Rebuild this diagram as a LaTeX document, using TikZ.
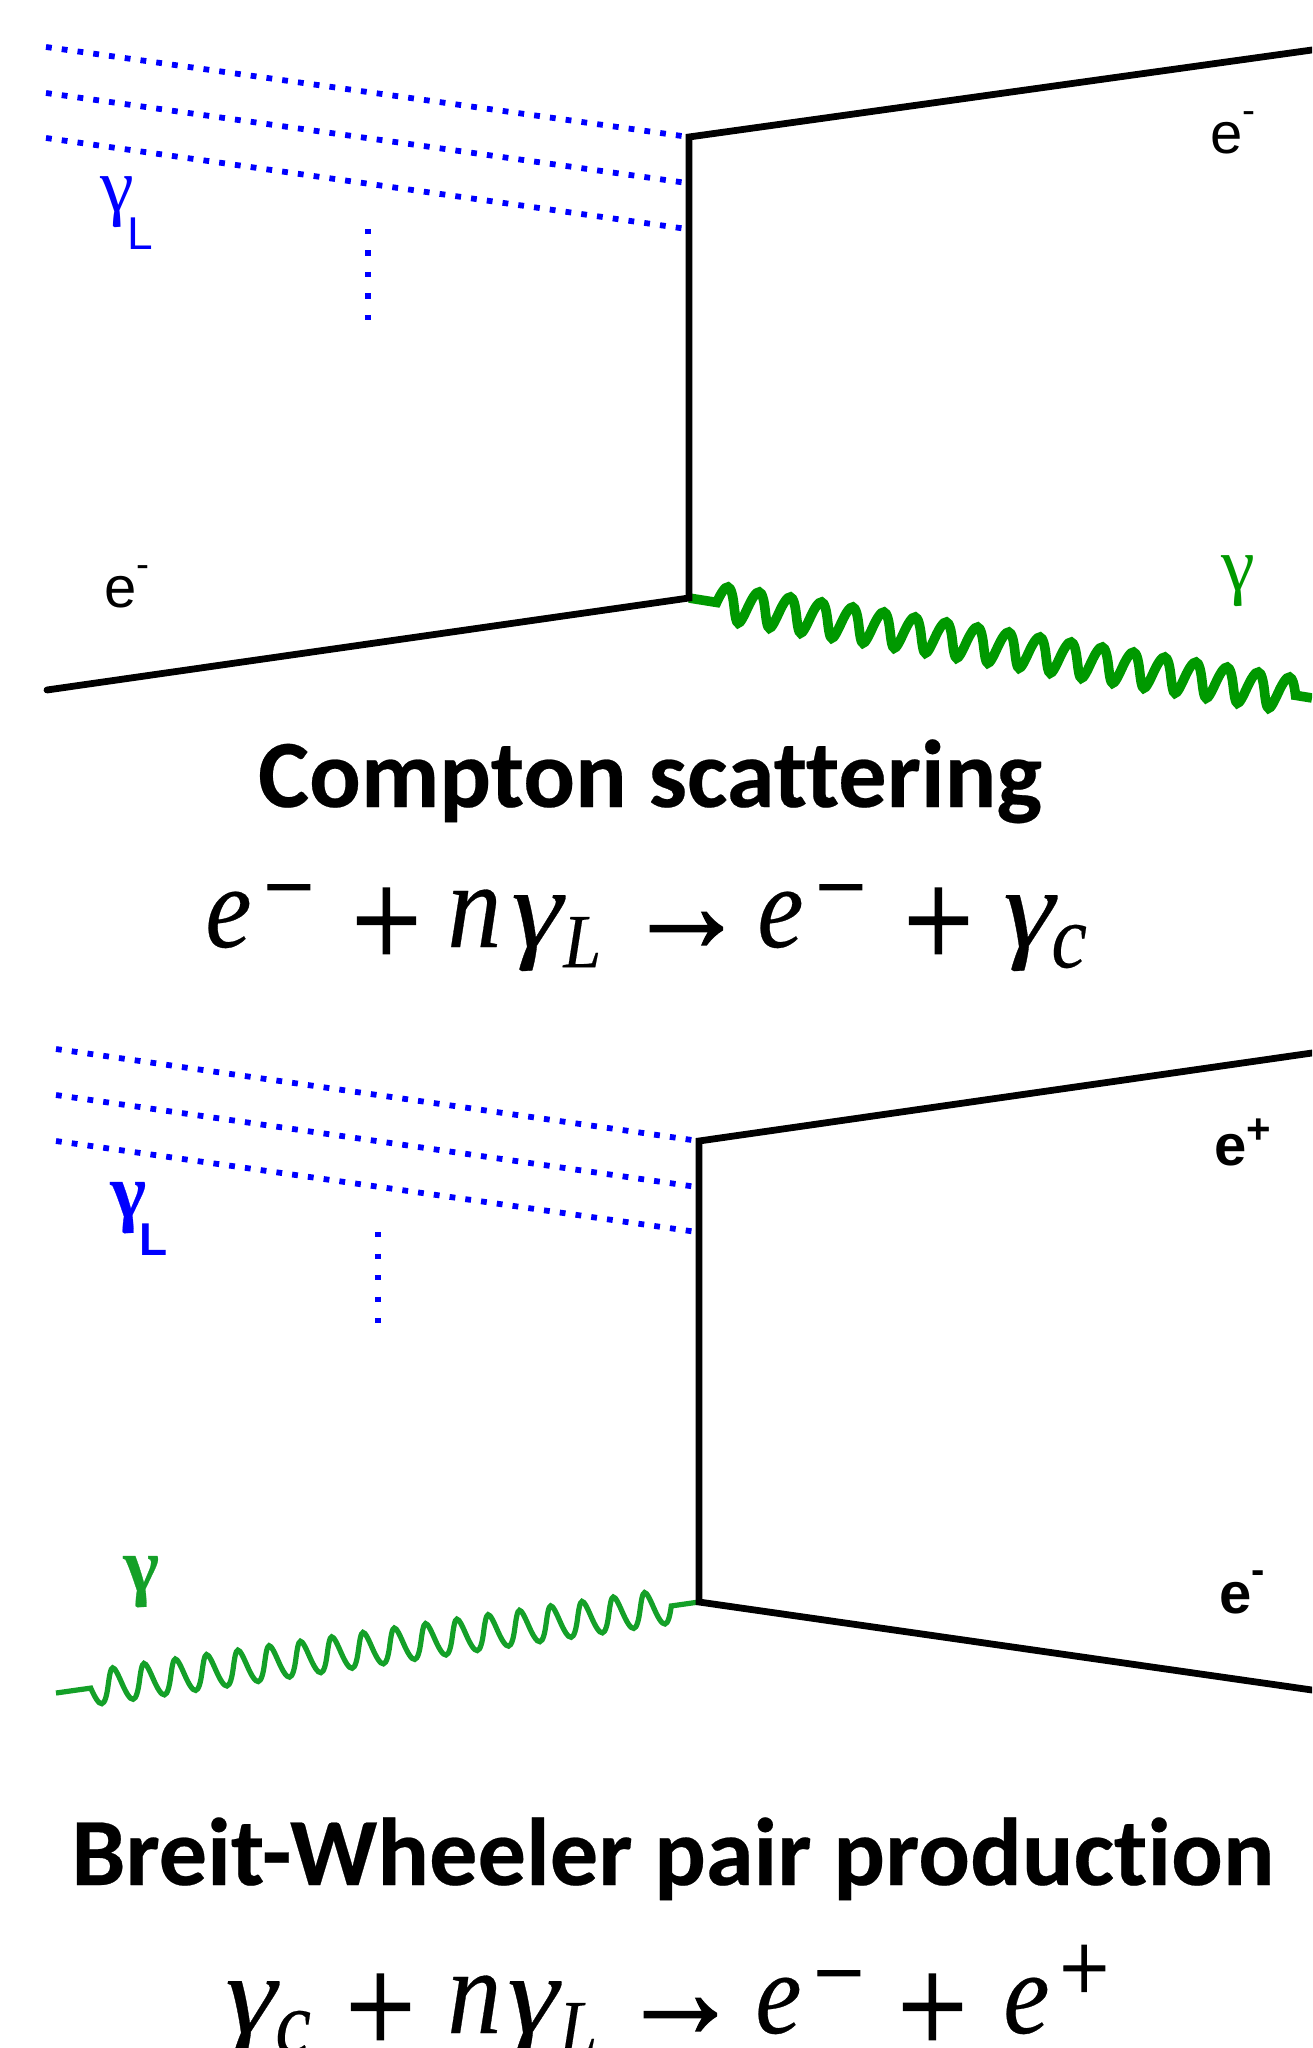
\documentclass[tikz,border=0pt]{standalone}
\usepackage{fontspec}
\usepackage{graphicx}
\setmainfont{Liberation Sans}
\newfontfamily\carlitofont[Ligatures={NoCommon},FakeBold=0.25]{Carlito}
\newfontfamily\serifgreek{Liberation Serif}
\newfontfamily\serifgreekb[FakeBold=0.35]{Liberation Serif}
\newfontfamily\eqletter[FakeBold=0.25]{Liberation Serif}
\newfontfamily\eqsign[FakeBold=1.2]{Liberation Serif}
\usetikzlibrary{decorations.pathmorphing}
\definecolor{laserblue}{RGB}{0,0,255}
\definecolor{greenA}{RGB}{0,153,0}
\definecolor{greenB}{RGB}{20,160,40}
% one glyph of an equation: x offset (in pt from the node's start), rise, size, content
\newcommand{\eqglyph}[4]{\rlap{\hspace*{#1pt}\raisebox{#2pt}{\fontsize{#3}{#3}\selectfont #4}}}
\newcommand{\eqgamma}{\scalebox{1.3}[1]{\itshape γ}}
\tikzset{
  fermion/.style={line width=3.4pt,black,line cap=round,line join=miter},
  laser/.style={line width=2.9pt,laserblue,dash pattern=on 2.9pt off 5.05pt},
  morelaser/.style={line width=2.7pt,laserblue,dash pattern=on 2.7pt off 8.05pt},
  wiggle/.style={decorate,decoration={coil,aspect=0.05,segment length=15.8pt,amplitude=8.5pt,pre length=14pt,post length=6pt}},
  labeltext/.style={inner sep=0pt,anchor=base west,font=\fontsize{29}{30}\selectfont},
  boldlabel/.style={inner sep=0pt,anchor=base west,font=\fontsize{29}{30}\selectfont\bfseries},
  titletext/.style={inner sep=0pt,anchor=base,font=\carlitofont\bfseries\fontsize{48.2}{50}\selectfont},
  eqtext/.style={inner sep=0pt,anchor=base west,font=\eqletter},
}
\begin{document}
\begin{tikzpicture}[x=0.5pt,y=-0.5pt]
\clip (0,0) rectangle (1312,2048);
\fill[white] (0,0) rectangle (1312,2048);
% --- Compton
\coordinate (a1) at (46,47);
\coordinate (a2) at (46,93);
\coordinate (a3) at (46,138);
\coordinate (v1t) at (689,137);
\coordinate (v1m) at (687,183);
\coordinate (v1b) at (687,229);
\coordinate (v1l) at (689,598);
\coordinate (a4) at (1312,50);
\coordinate (a5) at (47,690);
\coordinate (a6) at (1312,698);
\coordinate (d1a) at (368,229);
\coordinate (d1b) at (368,322);
\draw[laser] (a1) -- (v1t);
\draw[laser] (a2) -- (v1m);
\draw[laser] (a3) -- (v1b);
\draw[morelaser] (d1a) -- (d1b);
\draw[line width=4.8pt,greenA,wiggle] (v1l) -- (a6);
\draw[fermion] (a5) -- (v1l) -- (v1t) -- (a4);
\node[labeltext,laserblue] (gl1) at (100,212) {{\serifgreek\fontsize{38}{38}\selectfont γ}\hspace{-3pt}\raisebox{-19pt}{\fontsize{23}{25}\selectfont L}};
\node[labeltext] (e1) at (104,607) {e\raisebox{15pt}{\fontsize{19.5}{20}\selectfont -}};
\node[labeltext] (e2) at (1210,154) {e\raisebox{15pt}{\fontsize{19.5}{20}\selectfont -}};
\node[labeltext,greenA] (g1) at (1221,590) {\serifgreek\fontsize{38}{38}\selectfont γ};
\node[titletext] (t1) at (650,807) {Compton scattering};
\node[eqtext] (q1) at (205,947) {\scalebox{1}[1.13]{%
  \eqglyph{0}{0}{52}{\itshape e}%
  \eqglyph{29}{11.5}{45}{\eqsign −}%
  \eqglyph{73}{-9}{62}{\eqsign +}%
  \eqglyph{121}{0}{54}{\itshape n}%
  \eqglyph{153}{0}{50}{\eqgamma}%
  \eqglyph{179}{-9}{34}{\itshape L}%
  \eqglyph{210}{-2}{61}{\eqsign →}%
  \eqglyph{276}{0}{52}{\itshape e}%
  \eqglyph{305}{11.5}{45}{\eqsign −}%
  \eqglyph{349}{-9}{62}{\eqsign +}%
  \eqglyph{399}{0}{50}{\eqgamma}%
  \eqglyph{423}{-9}{40}{\itshape c}%
  \hspace*{441pt}}};
% --- Breit-Wheeler
\coordinate (b1) at (56,1049);
\coordinate (b2) at (56,1095);
\coordinate (b3) at (56,1141);
\coordinate (v2t) at (699,1141);
\coordinate (v2m) at (697,1187);
\coordinate (v2b) at (697,1232);
\coordinate (v2l) at (699,1602);
\coordinate (b4) at (1312,1053);
\coordinate (b5) at (1312,1690);
\coordinate (b6) at (56,1693);
\coordinate (d2a) at (378,1232);
\coordinate (d2b) at (378,1325);
\draw[laser] (b1) -- (v2t);
\draw[laser] (b2) -- (v2m);
\draw[laser] (b3) -- (v2b);
\draw[morelaser] (d2a) -- (d2b);
\draw[line width=2.6pt,greenB,wiggle] (v2l) -- (b6);
\draw[fermion] (b5) -- (v2l) -- (v2t) -- (b4);
\node[boldlabel,laserblue] (gl2) at (110,1217) {{\serifgreekb\fontsize{38}{38}\selectfont γ}\hspace{-3pt}\raisebox{-19pt}{\fontsize{23}{25}\selectfont L}};
\node[boldlabel,greenB] (g2) at (123,1591) {\serifgreekb\fontsize{38}{38}\selectfont γ};
\node[boldlabel] (e3) at (1214,1165) {e\raisebox{11pt}{\fontsize{21}{22}\selectfont +}};
\node[boldlabel] (e4) at (1219,1613) {e\raisebox{15pt}{\fontsize{20}{20}\selectfont -}};
\node[titletext] (t2) at (673,1885) {Breit-Wheeler pair production};
\node[eqtext] (q2) at (225,2033) {\scalebox{1}[1.13]{%
  \eqglyph{0}{0}{50}{\eqgamma}%
  \eqglyph{25}{-9}{40}{\itshape c}%
  \eqglyph{60}{-9}{62}{\eqsign +}%
  \eqglyph{111}{0}{54}{\itshape n}%
  \eqglyph{141}{0}{50}{\eqgamma}%
  \eqglyph{167}{-9}{34}{\itshape L}%
  \eqglyph{197}{-2}{61}{\eqsign →}%
  \eqglyph{265}{0}{52}{\itshape e}%
  \eqglyph{294}{11.5}{45}{\eqsign −}%
  \eqglyph{336}{-9}{62}{\eqsign +}%
  \eqglyph{389}{0}{52}{\itshape e}%
  \eqglyph{417}{14}{44}{\eqsign +}%
  \hspace*{441pt}}};
\end{tikzpicture}
\end{document}
